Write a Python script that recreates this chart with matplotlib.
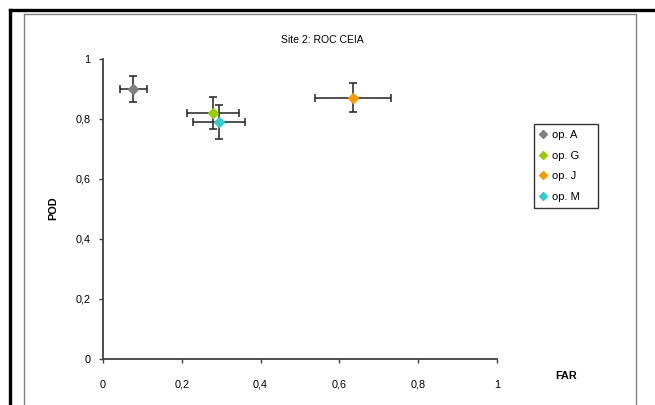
import matplotlib
matplotlib.use("Agg")
import matplotlib.pyplot as plt
from matplotlib.lines import Line2D
from matplotlib.ticker import FuncFormatter

plt.rcParams['font.family'] = ['Liberation Sans', 'DejaVu Sans']

operators = ['op. A', 'op. G', 'op. J', 'op. M']
far = [0.077, 0.28, 0.634, 0.295]
pod = [0.90, 0.819, 0.871, 0.791]
far_err = [0.034, 0.066, 0.097, 0.066]
pod_err = [0.043, 0.053, 0.048, 0.057]
colors = ['#808080', '#99cc00', '#ff9900', '#33cccc']
ticks = [0, 0.2, 0.4, 0.6, 0.8, 1]

W, H = 655, 405
fig = plt.figure(figsize=(W / 100, H / 100), dpi=100)
ax = fig.add_axes([103 / W, 1 - 359 / H, (497 - 103) / W, (359 - 59) / H])

for name, x, y, xe, ye, c in zip(operators, far, pod, far_err, pod_err, colors):
    ax.errorbar(x, y, xerr=xe, yerr=ye, fmt='none', ecolor='#222222',
                elinewidth=1.1, capsize=3, capthick=1.1, zorder=2)
    ax.plot(x, y, marker='D', markersize=4.6, color=c, linestyle='none',
            label=name, zorder=3)

ax.set_xlim(0, 1)
ax.set_ylim(0, 1)
ax.set_xticks(ticks)
ax.set_yticks(ticks)
fmt = FuncFormatter(lambda v, p: ('%g' % v).replace('.', ','))
ax.xaxis.set_major_formatter(fmt)
ax.yaxis.set_major_formatter(fmt)
for s in ['top', 'right']:
    ax.spines[s].set_visible(False)
for s in ['left', 'bottom']:
    ax.spines[s].set_color('#404040')
    ax.spines[s].set_linewidth(1.3)
ax.tick_params(axis='both', direction='out', length=3, width=1, color='#404040',
               labelsize=7.8)
ax.tick_params(axis='x', pad=12)
ax.tick_params(axis='y', pad=6)

fig.text(322 / W, 1 - 40 / H, 'Site 2: ROC CEIA', ha='center', va='center', fontsize=7.5)
fig.text(566 / W, 1 - 376 / H, 'FAR', ha='center', va='center', fontsize=7.8,
         fontweight='bold')
fig.text(53 / W, 1 - 208 / H, 'POD', ha='center', va='center', fontsize=7.8,
         fontweight='bold', rotation=90)

leg = fig.legend(loc='upper left',
                 bbox_to_anchor=(534 / W, 1 - 210 / H, 64 / W, 86 / H),
                 mode='expand', frameon=True, fancybox=False, fontsize=8,
                 handlelength=0.6, handletextpad=0.45, borderpad=0.55,
                 labelspacing=0.95, borderaxespad=0, markerscale=0.95)
leg.get_frame().set_edgecolor('black')
leg.get_frame().set_linewidth(1.0)

# outer frames
fig.add_artist(Line2D([9.5 / W, 1], [1 - 9.5 / H, 1 - 9.5 / H], color='black',
                      linewidth=2.4, solid_capstyle='projecting',
                      transform=fig.transFigure))
fig.add_artist(Line2D([9.5 / W, 9.5 / W], [1 - 9.5 / H, 0], color='black',
                      linewidth=2.4, solid_capstyle='projecting',
                      transform=fig.transFigure))
fig.add_artist(Line2D([23.5 / W, 635.5 / W, 635.5 / W], [1 - 13.5 / H, 1 - 13.5 / H, 0],
                      color='#808080', linewidth=1.0, transform=fig.transFigure))
fig.add_artist(Line2D([23.5 / W, 23.5 / W], [1 - 13.5 / H, 0],
                      color='#808080', linewidth=1.0, transform=fig.transFigure))

fig.savefig('out.png', dpi=100)
